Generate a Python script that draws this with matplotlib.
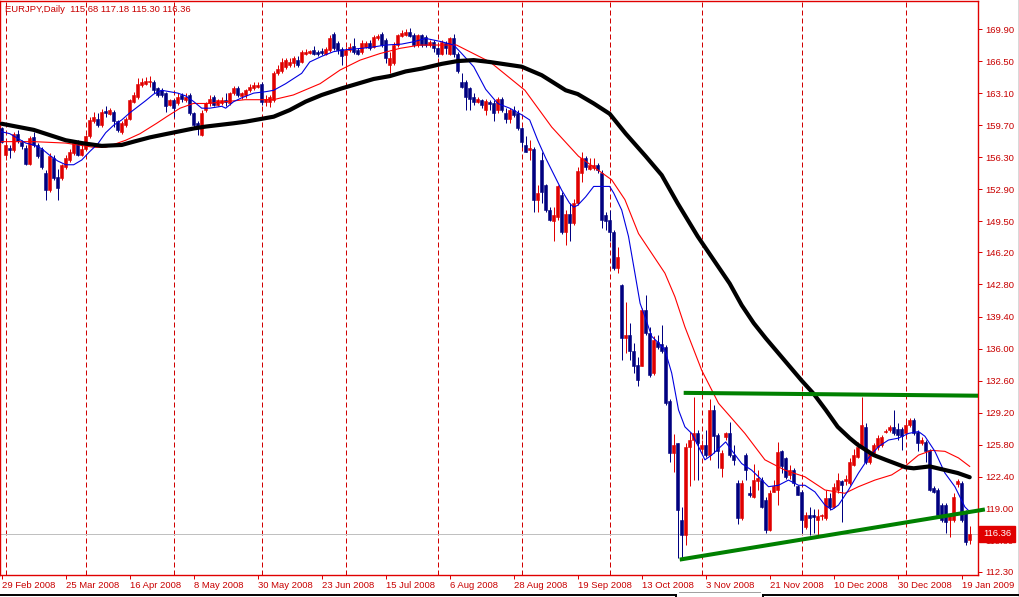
import matplotlib
matplotlib.use('Agg')
import matplotlib.pyplot as plt
import matplotlib.transforms as mtransforms
from matplotlib.lines import Line2D
import numpy as np

plt.rcParams['font.family'] = ['Liberation Sans', 'DejaVu Sans']

# EURJPY daily candles, bar 0 = 29 Feb 2008, last bar = 21 Jan 2009
opens = [159.4, 156.5, 157.3, 157.1, 158.8, 157.95, 157.3, 155.6, 158.4, 157.6,
         157.2, 154.6, 152.8, 156.2, 154.2, 154.1, 155.3, 156.0, 156.7, 157.7,
         156.5, 157.2, 158.5, 160.1, 160.4, 159.7, 161.2, 160.9, 161.1, 160.1,
         159.0, 159.7, 160.4, 162.2, 162.7, 164.0, 164.1, 164.3, 164.3, 163.6,
         163.4, 163.1, 161.8, 162.4, 162.0, 162.9, 162.4, 162.9, 161.0, 159.9,
         158.65, 161.3, 162.0, 162.7, 161.8, 162.0, 162.4, 162.0, 163.1, 163.6,
         162.8, 162.9, 163.4, 163.6, 163.7, 164.1, 162.2, 162.2, 162.4, 165.2,
         165.4, 165.9, 166.1, 166.3, 166.6, 166.4, 167.3, 167.4, 167.7, 167.5,
         167.6, 167.3, 167.7, 169.4, 168.4, 167.8, 167.1, 167.7, 168.1, 167.7,
         167.5, 168.0, 168.4, 168.0, 168.9, 169.4, 168.7, 166.1, 166.3, 168.2,
         169.2, 169.3, 169.6, 169.3, 168.2, 169.3, 169.1, 168.2, 168.5, 167.85,
         167.3, 168.4, 167.3, 168.9, 167.3, 164.3, 164.3, 163.6, 162.7, 162.2,
         162.4, 161.3, 162.2, 162.0, 161.3, 162.5, 161.0, 160.4, 161.3, 160.95,
         159.4, 157.6, 157.1, 157.2, 151.8, 156.0, 153.4, 150.7, 149.5, 150.0,
         152.3, 148.4, 150.3, 149.3, 151.4, 154.6, 156.2, 155.1, 155.2, 155.5,
         154.6, 150.2, 149.6, 148.4, 144.5, 142.7, 137.1, 137.4, 135.7, 134.3,
         134.1, 140.1, 137.6, 133.4, 136.7, 136.5, 136.2, 130.4, 124.9, 125.95,
         117.8, 116.2, 125.6, 126.3, 127.0, 125.3, 125.8, 124.7, 129.5, 126.8,
         123.3, 126.6, 127.0, 124.7, 121.7, 118.0, 124.7, 120.7, 120.3, 121.9,
         122.1, 119.9, 116.8, 120.8, 121.0, 125.1, 124.4, 122.6, 123.1, 121.4,
         120.8, 117.1, 118.3, 118.3, 117.8, 118.2, 118.0, 120.1, 119.2, 121.0,
         121.9, 121.9, 121.7, 123.6, 124.5, 125.6, 127.7, 124.0, 124.9, 125.6,
         125.8, 127.2, 127.4, 127.7, 127.5, 127.5, 127.0, 127.9, 128.4, 127.2,
         126.0, 126.1, 125.2, 121.2, 121.0, 119.4, 119.4, 117.8, 117.8, 121.6,
         121.7, 118.7, 115.68]
highs = [159.5, 158.0, 157.6, 159.0, 159.2, 158.1, 157.6, 158.5, 159.0, 157.8,
         157.4, 154.9, 156.7, 156.5, 155.1, 155.6, 156.5, 157.2, 158.1, 158.1,
         157.6, 158.7, 160.6, 161.1, 161.0, 161.4, 161.7, 161.5, 161.3, 160.25,
         160.1, 160.6, 162.5, 163.2, 164.7, 164.7, 164.8, 164.9, 164.5, 163.8,
         163.6, 163.25, 162.5, 162.5, 163.1, 163.1, 163.1, 163.1, 161.1, 160.1,
         161.3, 162.2, 162.9, 162.9, 162.5, 162.7, 163.1, 163.25, 163.9, 163.9,
         163.25, 163.5, 164.1, 164.3, 164.3, 164.3, 162.9, 162.9, 165.4, 166.1,
         166.8, 166.8, 166.8, 167.0, 167.0, 167.7, 167.8, 167.7, 168.1, 167.7,
         167.85, 168.0, 169.3, 169.6, 168.6, 168.0, 168.0, 168.4, 168.9, 167.85,
         168.7, 168.6, 168.7, 169.3, 169.4, 169.6, 168.9, 167.5, 168.5, 169.4,
         169.8, 169.9, 170.0, 169.5, 169.4, 169.4, 169.3, 168.7, 168.7, 168.0,
         168.7, 168.6, 169.1, 169.4, 167.5, 165.2, 164.5, 163.8, 163.1, 162.7,
         162.5, 162.5, 162.4, 162.4, 162.7, 162.7, 161.5, 161.5, 161.7, 161.3,
         159.5, 158.5, 158.1, 157.4, 153.4, 156.9, 153.5, 151.0, 151.0, 153.4,
         152.6, 150.7, 151.4, 151.9, 155.3, 156.9, 156.4, 156.2, 156.2, 155.7,
         154.9, 150.5, 150.7, 148.6, 146.8, 142.9, 140.9, 138.7, 136.6, 135.1,
         140.3, 141.7, 138.3, 137.3, 137.4, 138.5, 136.4, 130.7, 126.9, 126.0,
         119.2, 125.95, 127.2, 130.9, 127.4, 126.3, 127.4, 130.7, 130.0, 127.0,
         125.2, 127.1, 128.2, 125.8, 122.1, 122.1, 124.9, 121.4, 123.8, 123.1,
         122.4, 120.3, 121.0, 122.1, 126.1, 125.2, 124.5, 123.6, 123.3, 121.5,
         121.0, 118.7, 119.2, 119.0, 119.0, 118.5, 121.0, 120.65, 121.7, 122.8,
         122.1, 122.6, 124.4, 125.4, 126.1, 130.9, 128.1, 125.1, 125.95, 126.8,
         126.8, 127.5, 127.9, 129.5, 128.1, 127.7, 128.4, 128.6, 128.6, 127.4,
         126.6, 126.3, 125.4, 121.4, 121.2, 119.6, 119.6, 118.5, 120.65, 122.2,
         121.9, 118.9, 117.18]
lows = [157.8, 156.0, 156.2, 156.9, 157.8, 157.2, 155.5, 155.5, 157.4, 156.2,
        155.0, 151.8, 152.6, 153.9, 151.8, 153.9, 155.1, 155.8, 156.5, 156.4,
        156.4, 157.1, 158.3, 159.9, 159.5, 159.5, 160.6, 160.8, 159.5, 159.0,
        158.8, 159.5, 160.2, 162.0, 162.5, 163.8, 164.0, 163.8, 163.1, 162.7,
        162.7, 161.1, 161.7, 160.6, 161.8, 162.2, 162.2, 160.8, 159.5, 158.7,
        158.5, 161.1, 161.7, 161.7, 161.7, 161.8, 161.7, 161.8, 162.9, 162.7,
        162.5, 162.6, 163.2, 163.4, 163.6, 161.8, 161.7, 161.6, 162.2, 165.0,
        165.2, 165.7, 165.9, 165.9, 165.9, 166.3, 167.1, 167.2, 167.1, 167.0,
        167.1, 167.1, 167.5, 167.7, 167.3, 166.1, 165.9, 167.5, 167.3, 167.1,
        167.3, 167.85, 167.7, 167.85, 168.7, 168.0, 166.3, 165.2, 166.1, 168.0,
        169.0, 169.2, 169.0, 168.0, 168.0, 168.0, 168.0, 168.0, 167.5, 166.97,
        167.1, 167.3, 167.1, 166.97, 165.2, 163.6, 161.3, 161.3, 161.8, 162.0,
        161.5, 160.8, 161.3, 160.1, 161.0, 161.1, 159.9, 159.9, 160.6, 159.2,
        157.4, 156.8, 156.0, 150.5, 150.5, 151.4, 150.5, 149.5, 147.4, 149.6,
        148.2, 147.0, 147.4, 149.1, 151.2, 153.7, 154.9, 154.9, 154.9, 154.6,
        148.8, 148.6, 147.4, 144.3, 144.0, 134.8, 135.5, 134.8, 133.4, 132.0,
        134.1, 137.4, 133.0, 133.2, 136.0, 135.5, 130.0, 124.0, 122.9, 113.8,
        113.6, 115.2, 121.4, 122.1, 122.1, 124.9, 124.5, 124.2, 124.9, 123.3,
        122.4, 126.3, 124.5, 123.7, 117.4, 117.8, 122.1, 120.3, 120.1, 121.0,
        119.1, 116.4, 116.6, 120.8, 119.4, 122.8, 122.2, 122.2, 121.4, 120.5,
        116.4, 116.9, 116.2, 116.4, 116.1, 117.8, 117.8, 118.9, 119.1, 120.65,
        117.6, 121.5, 121.5, 123.5, 124.4, 125.4, 123.8, 123.8, 124.7, 125.2,
        125.6, 127.0, 127.2, 126.8, 126.3, 125.2, 126.8, 127.7, 126.8, 125.1,
        125.8, 124.0, 120.9, 120.65, 118.2, 117.6, 116.4, 116.0, 117.6, 121.35,
        117.6, 115.2, 115.30]
closes = [157.95, 157.6, 157.1, 158.8, 158.0, 157.5, 155.6, 158.3, 157.6, 156.4,
          155.3, 152.8, 156.4, 154.1, 153.0, 155.5, 156.2, 156.9, 157.8, 156.5,
          157.2, 158.5, 160.2, 160.6, 159.7, 161.1, 160.95, 161.3, 160.1, 159.2,
          159.9, 160.4, 162.4, 162.9, 164.1, 164.3, 164.4, 164.4, 163.4, 162.9,
          162.9, 161.7, 162.4, 161.5, 162.7, 162.5, 162.7, 161.0, 159.7, 159.4,
          160.95, 162.0, 162.5, 161.8, 162.4, 162.4, 162.2, 163.1, 163.6, 162.9,
          163.1, 163.4, 163.8, 163.95, 164.0, 162.2, 162.5, 162.7, 165.2, 165.7,
          166.4, 166.6, 166.4, 166.8, 166.1, 167.5, 167.5, 167.6, 167.3, 167.3,
          167.4, 167.8, 168.9, 167.85, 167.7, 167.0, 167.7, 168.0, 167.5, 167.3,
          168.4, 168.4, 167.85, 169.1, 169.2, 168.2, 166.8, 166.8, 168.2, 169.3,
          169.5, 169.6, 169.2, 168.2, 169.3, 168.2, 168.2, 168.5, 167.85, 167.3,
          168.5, 167.85, 168.9, 167.3, 165.4, 163.8, 162.7, 162.5, 162.2, 162.5,
          161.8, 162.3, 161.9, 161.0, 162.5, 161.3, 160.4, 161.3, 160.8, 159.4,
          157.95, 156.9, 157.3, 151.8, 152.5, 152.6, 150.7, 149.6, 150.2, 153.2,
          148.4, 150.3, 149.3, 151.4, 154.8, 156.2, 155.3, 155.5, 155.5, 154.9,
          149.6, 149.5, 148.4, 144.5, 145.75, 137.1, 137.4, 135.7, 134.1, 132.7,
          140.1, 137.6, 133.2, 136.9, 136.2, 135.7, 130.2, 124.9, 125.8, 118.9,
          116.2, 125.6, 126.3, 127.0, 125.95, 125.8, 124.7, 129.5, 126.7, 125.1,
          124.9, 127.0, 124.7, 124.2, 118.0, 121.7, 123.1, 120.45, 122.1, 122.3,
          119.2, 116.8, 120.65, 121.4, 125.0, 123.5, 122.4, 123.1, 121.7, 120.5,
          117.8, 118.3, 118.0, 118.1, 118.2, 118.3, 120.1, 119.2, 121.3, 122.1,
          121.5, 122.2, 124.0, 124.7, 125.6, 127.9, 124.0, 124.9, 125.8, 126.5,
          126.6, 127.3, 127.7, 127.0, 126.8, 126.7, 127.9, 128.4, 127.0, 126.0,
          126.3, 125.1, 121.0, 120.8, 118.35, 117.8, 117.6, 118.2, 120.3, 122.0,
          117.8, 115.5, 116.36]

# moving averages (bar position, price)
blue_x = [0, 2, 4, 6, 8, 10, 12, 14, 16, 18, 20, 22, 24, 26, 28, 30, 32, 34, 36, 38,
          40, 42, 44, 46, 48, 50, 52, 55, 56, 58, 60, 63, 66, 68, 71, 75, 77, 80, 83, 86,
          90, 93, 96, 100, 103, 106, 110, 113, 115, 118, 121, 124, 127, 130, 132, 134,
          136, 138, 140, 142, 143, 144, 146, 148, 150, 152, 153, 155, 156.7, 158.3,
          159.6, 160.8, 162.5, 164.2, 165.8, 167.5, 169.2, 170.8, 172.5, 174.2, 175.8,
          177.5, 179, 181, 182.5, 185, 187.5, 189.2, 191.7, 194.2, 196.7, 199.2, 200.8,
          203.3, 205.8, 207.5, 209.2, 211.7, 214.2, 216.7, 219.2, 221.7, 224.2, 226.7,
          229.2, 230.8, 233.3, 235.8, 238.3, 240.8, 242]
blue_y = [159.0, 158.8, 158.3, 157.8, 157.6, 157.2, 156.5, 155.9, 155.5, 155.5,
          156.0, 156.9, 157.7, 158.9, 159.7, 160.25, 161.0, 161.65, 162.3, 163.0,
          163.4, 163.25, 163.1, 162.8, 162.2, 161.5, 161.5, 161.7, 161.5, 162.2,
          162.6, 163.1, 163.25, 163.4, 164.1, 165.2, 166.4, 167.0, 167.5, 167.7,
          167.85, 168.0, 168.2, 168.3, 168.55, 168.9, 168.55, 168.2, 167.3, 165.9,
          163.5, 162.0, 161.5, 160.8, 160.25, 158.1, 156.2, 154.5, 152.8, 151.4,
          151.0, 151.2, 152.1, 153.2, 153.2, 153.2, 152.5, 150.7, 147.9, 144.0,
          140.8, 139.4, 137.3, 136.6, 135.85, 133.4, 129.5, 127.7, 127.0, 125.6,
          124.2, 124.7, 125.3, 126.1, 125.2, 123.8, 123.1, 122.4, 121.35, 121.5,
          122.05, 121.5, 121.5, 120.8, 119.4, 118.9, 119.4, 121.0, 122.8, 124.4,
          125.6, 126.3, 126.5, 127.0, 127.2, 126.7, 125.1, 122.8, 121.35, 119.2,
          118.7]
red_x = [0, 8, 16, 23, 26, 31, 34.6, 38.75, 41.25, 44.6, 47.9, 51.25, 56.25, 60.8,
         67.9, 72.9, 79.6, 84.6, 89.6, 94.6, 99.6, 104.6, 109.6, 113.7, 117.9, 122.1,
         130.8, 137.5, 144.2, 149.2, 152.5, 155.8, 159.2, 162.5, 165.8, 168.3, 170.8,
         175, 179.2, 182.1, 185.8, 190.8, 195.8, 200.8, 205.8, 210.8, 214.2, 218.3,
         222.5, 225.8, 229.2, 232.5, 235.8, 239.2, 242]
red_y = [157.95, 157.95, 157.8, 157.35, 157.35, 158.1, 158.8, 159.9, 160.6, 161.5,
         162.0, 162.0, 162.2, 162.4, 162.4, 162.9, 164.1, 165.55, 166.6, 167.3,
         167.85, 168.2, 168.2, 168.2, 167.3, 166.4, 163.4, 159.5, 156.4, 154.9,
         153.9, 151.8, 148.2, 146.1, 144.0, 141.5, 138.3, 133.7, 130.2, 128.8,
         127.0, 124.2, 123.1, 122.4, 121.0, 120.65, 121.35, 122.05, 122.6, 123.5,
         124.7, 125.2, 125.1, 124.4, 123.5]
black_x = [0, 8, 16, 20, 25, 30, 33, 37, 41, 48, 51, 58, 61, 68, 72, 76, 80, 85, 89,
           93, 97, 101, 105, 110, 114, 118, 122, 130, 135, 141, 144, 148, 152, 156,
           161, 165, 169, 174, 178, 182, 185, 188, 191, 194, 197, 200, 203, 206, 209,
           212, 214, 218, 221, 226, 228, 232, 235, 239, 242]
black_y = [159.85, 159.2, 158.1, 157.8, 157.5, 157.6, 157.95, 158.4, 158.75, 159.35,
           159.55, 159.9, 160.07, 160.6, 161.3, 162.2, 162.9, 163.6, 164.1, 164.6,
           164.9, 165.4, 165.7, 166.2, 166.5, 166.6, 166.4, 165.9, 165.0, 163.4,
           163.0, 162.0, 160.9, 158.8, 156.4, 154.4, 151.4, 147.9, 145.4, 142.9,
           140.6, 138.7, 137.1, 135.6, 134.1, 132.6, 131.2, 129.5, 127.7, 126.5,
           125.8, 124.7, 124.2, 123.4, 123.3, 123.5, 123.2, 122.8, 122.35]

# trend lines drawn on the chart
res_x = [171, 244.1]
res_y = [131.3, 131.0]
sup_x = [170, 245.3]
sup_y = [113.65, 118.9]

# month separators (first bar of each month)
sep_bars = [1, 21, 43, 65, 86, 109, 130, 152, 175, 200, 226]

date_bars = list(range(0, 241, 16))
date_labels = ['29 Feb 2008', '25 Mar 2008', '16 Apr 2008', '8 May 2008', '30 May 2008',
               '23 Jun 2008', '15 Jul 2008', '6 Aug 2008', '28 Aug 2008', '19 Sep 2008',
               '13 Oct 2008', '3 Nov 2008', '21 Nov 2008', '10 Dec 2008', '30 Dec 2008',
               '19 Jan 2009']
price_ticks = [169.90, 166.50, 163.10, 159.70, 156.30, 152.90, 149.50, 146.20, 142.80,
               139.40, 136.00, 132.60, 129.20, 125.80, 122.40, 119.00, 115.60, 112.30]
last_price = 116.36

W, H = 1020, 597
RED_TXT = '#c80000'
AX_RED = '#e00000'
BULL = '#e00000'
BEAR = '#000080'
PX = 0.72  # one pixel in points

fig = plt.figure(figsize=(W / 100, H / 100), dpi=100)
fig.patch.set_facecolor('white')
ax = fig.add_axes([0, (H - 575) / H, 978 / W, 574 / H])

o = np.array(opens)
h = np.array(highs)
l = np.array(lows)
c = np.array(closes)
x = np.arange(len(o))
up = c >= o
cols = np.where(up, BULL, BEAR)

# separators first (behind everything)
for b in sep_bars:
    ax.axvline(b, color='#d00000', lw=PX, ls=(0, (5, 3)), zorder=1)

ax.axhline(last_price, color='#c0c0c0', lw=PX, zorder=1)

ax.vlines(x, l, h, colors=cols, lw=PX, zorder=2)
ax.bar(x, np.abs(c - o), bottom=np.minimum(o, c), width=0.72, color=cols,
       edgecolor=cols, linewidth=0.4, zorder=3)

ax.plot(red_x, red_y, color='#ff0000', lw=0.8, zorder=4)
ax.plot(blue_x, blue_y, color='#0000e0', lw=0.8, zorder=4)
ax.plot(black_x, black_y, color='black', lw=3.0, solid_capstyle='round',
        solid_joinstyle='round', zorder=5)
ax.plot(res_x, res_y, color='#008000', lw=2.9, zorder=6)
ax.plot(sup_x, sup_y, color='#008000', lw=2.9, zorder=6, clip_on=False)

ax.set_xlim(-1.7 / 4, (978 - 1.7) / 4)
ax.set_ylim(169.9 - (575 - 29) / 9.427, 169.9 + 28 / 9.427)

for s in ax.spines.values():
    s.set_color(AX_RED)
    s.set_linewidth(1.0)

ax.yaxis.tick_right()
ax.set_yticks(price_ticks)
ax.set_yticklabels(['%.2f' % v for v in price_ticks])
ax.tick_params(axis='y', colors=AX_RED, labelcolor=RED_TXT, length=3, width=PX,
               pad=2.2, labelsize=6.8, direction='out')
ax.set_xticks(date_bars)
ax.set_xticklabels(date_labels)
for t in ax.get_xticklabels():
    t.set_horizontalalignment('left')
ax.tick_params(axis='x', colors=AX_RED, labelcolor=RED_TXT, length=3, width=PX,
               pad=1.5, labelsize=6.8, direction='out')

# current price box on the price scale
trans = mtransforms.blended_transform_factory(ax.transAxes, ax.transData)
ax.text(1.0 + 5 / 978, last_price, '%.2f' % last_price, transform=trans, ha='left',
        va='center', color='white', fontsize=6.8, zorder=10, clip_on=False,
        bbox=dict(boxstyle='square,pad=0.38', fc='#e00000', ec='#e00000'))

fig.text(5 / W, 1 - 9 / H, 'EURJPY,Daily  115.68 117.18 115.30 116.36', color=RED_TXT,
         fontsize=6.8, ha='left', va='center')

# window chrome at the bottom and right edge
def px_line(x0, y0, x1, y1, color, lw):
    fig.add_artist(Line2D([x0 / W, x1 / W], [1 - y0 / H, 1 - y1 / H], color=color,
                          lw=lw, transform=fig.transFigure))

px_line(1018, 0, 1018, 597, '#d8d8d8', 0.7)
px_line(0, 594.5, 676, 594.5, 'black', 1.4)
px_line(676, 594.5, 676, 597, 'black', 1.4)
px_line(679, 592, 760, 592, '#a0a0a0', 0.7)
px_line(763, 594.5, 1020, 594.5, 'black', 1.4)
px_line(763, 594.5, 763, 597, 'black', 1.4)

fig.savefig('out.png', dpi=100)
